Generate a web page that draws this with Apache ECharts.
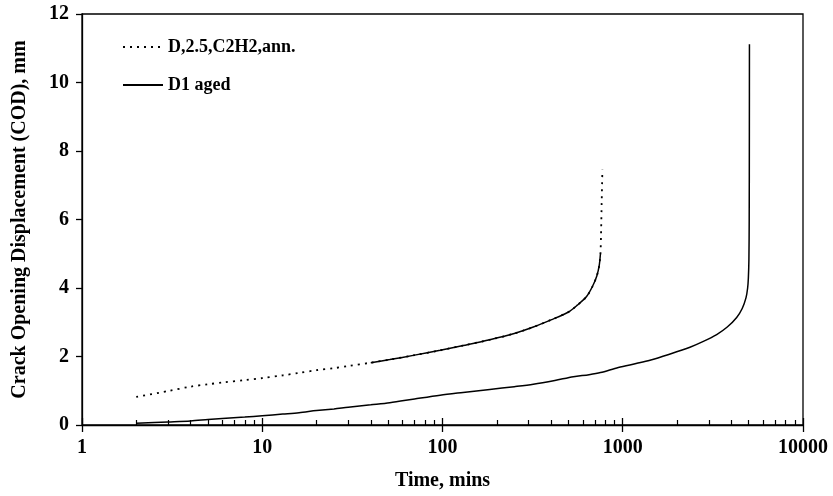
<!DOCTYPE html>
<html>
<head>
<meta charset="utf-8">
<script src="https://cdn.jsdelivr.net/npm/echarts@6/dist/echarts.min.js"></script>
<style>html,body{margin:0;padding:0;background:#fff}#c{width:833px;height:496px}</style>
</head>
<body>
<div id="c"></div>
<script>
// Series 1: D,2.5,C2H2,ann.
var annTime = [2, 3, 4, 5, 6, 8, 10, 13, 16, 20, 25, 30, 40, 51, 70, 97, 130, 183, 250, 319, 400, 500, 560, 630, 680, 718, 740, 752, 758, 764, 771];
var annCOD  = [0.82, 0.99, 1.12, 1.19, 1.24, 1.31, 1.37, 1.45, 1.52, 1.60, 1.66, 1.72, 1.82, 1.91, 2.04, 2.18, 2.32, 2.49, 2.67, 2.86, 3.07, 3.30, 3.50, 3.75, 4.05, 4.35, 4.65, 5.0, 5.6, 6.5, 7.45];
// Series 2: D1 aged
var agedTime = [2, 3, 4, 5, 6, 8, 10, 13, 16, 20, 25, 30, 40, 51, 70, 97, 130, 183, 250, 319, 420, 532, 650, 752, 945, 1200, 1416, 1800, 2360, 2800, 3320, 3800, 4286, 4600, 4830, 4930, 4977, 5010, 5030, 5040, 5045];
var agedCOD  = [0.05, 0.09, 0.12, 0.16, 0.19, 0.23, 0.27, 0.32, 0.36, 0.42, 0.47, 0.52, 0.59, 0.65, 0.76, 0.87, 0.95, 1.04, 1.12, 1.19, 1.30, 1.41, 1.47, 1.53, 1.68, 1.80, 1.89, 2.06, 2.27, 2.44, 2.64, 2.86, 3.14, 3.40, 3.72, 4.0, 4.30, 4.8, 6.0, 8.6, 11.12];
// Axis ticks
var yTicks = [0, 2, 4, 6, 8, 10, 12];
var xMajor = [1, 10, 100, 1000, 10000];
var xMinor = [2,3,4,5,6,7,8,9, 20,30,40,50,60,70,80,90, 200,300,400,500,600,700,800,900, 2000,3000,4000,5000,6000,7000,8000,9000];
var seriesNames = ['D,2.5,C2H2,ann.', 'D1 aged'];

function pairs(xs, ys) { return xs.map(function (x, i) { return [x, ys[i]]; }); }
var annData = pairs(annTime, annCOD);
var agedData = pairs(agedTime, agedCOD);
// dense middle part of the dotted series renders as solid in the source
var annDense = annData.slice(annTime.indexOf(40), annTime.indexOf(752) + 1);

var FONT = 'Liberation Serif';
var chart = echarts.init(document.getElementById('c'));
var baseX = { type: 'log', logBase: 10, min: 1, max: 10000, gridIndex: 0, position: 'bottom',
  splitLine: { show: false }, minorTick: { show: false }, minorSplitLine: { show: false } };
chart.setOption({
  backgroundColor: '#fff',
  animation: false,
  grid: { left: 82, right: 30, top: 14, bottom: 67, show: true, borderColor: '#000', borderWidth: 1.3, backgroundColor: 'transparent' },
  legend: {
    data: seriesNames, orient: 'vertical', left: 117, top: 33, itemWidth: 40, itemHeight: 16, itemGap: 20,
    itemStyle: { color: 'transparent', borderWidth: 0, borderColor: 'transparent' },
    textStyle: { fontFamily: FONT, fontWeight: 'bold', fontSize: 18, color: '#000' }
  },
  xAxis: [
    Object.assign({}, baseX, {
      name: 'Time, mins', nameLocation: 'middle', nameGap: 46,
      nameTextStyle: { fontFamily: FONT, fontWeight: 'bold', fontSize: 20, color: '#000' },
      axisLine: { show: true, lineStyle: { color: '#000', width: 1.3 } },
      axisTick: { show: true, inside: false, length: 7, lineStyle: { color: '#000', width: 1.3 }, customValues: xMajor },
      axisLabel: { show: true, margin: 13, fontFamily: FONT, fontWeight: 'bold', fontSize: 20, color: '#000', customValues: xMajor,
        formatter: function (v) { return String(Math.round(v)); } }
    }),
    Object.assign({}, baseX, {
      axisLine: { show: false }, axisLabel: { show: false },
      axisTick: { show: true, inside: true, length: 7, lineStyle: { color: '#000', width: 1.3 }, customValues: xMajor }
    }),
    Object.assign({}, baseX, {
      axisLine: { show: false }, axisLabel: { show: false },
      axisTick: { show: true, inside: true, length: 5, lineStyle: { color: '#000', width: 1.2 }, customValues: xMinor }
    })
  ],
  yAxis: {
    type: 'value', min: 0, max: 12, interval: 2,
    name: 'Crack Opening Displacement (COD), mm', nameLocation: 'middle', nameGap: 52,
    nameTextStyle: { fontFamily: FONT, fontWeight: 'bold', fontSize: 20, color: '#000' },
    axisLine: { show: true, lineStyle: { color: '#000', width: 1.3 } },
    axisTick: { show: true, inside: false, length: 6, lineStyle: { color: '#000', width: 1.3 } },
    axisLabel: { margin: 13, fontFamily: FONT, fontWeight: 'bold', fontSize: 20, color: '#000',
      formatter: function (v) { return yTicks.indexOf(v) >= 0 ? String(v) : ''; } },
    splitLine: { show: false }
  },
  series: [
    { name: seriesNames[0], type: 'line', xAxisIndex: 0, data: annData, symbol: 'none', smooth: 0.3,
      lineStyle: { color: '#000', width: 1.8, type: [2, 5] }, itemStyle: { color: '#000' } },
    { name: 'ann-dense', type: 'line', xAxisIndex: 0, data: annDense, symbol: 'none', smooth: 0.3,
      lineStyle: { color: '#000', width: 1.5 }, itemStyle: { color: '#000' } },
    { name: seriesNames[1], type: 'line', xAxisIndex: 0, data: agedData, symbol: 'none', smooth: 0.3,
      lineStyle: { color: '#000', width: 1.5 }, itemStyle: { color: '#000' } }
  ]
});
</script>
</body>
</html>
